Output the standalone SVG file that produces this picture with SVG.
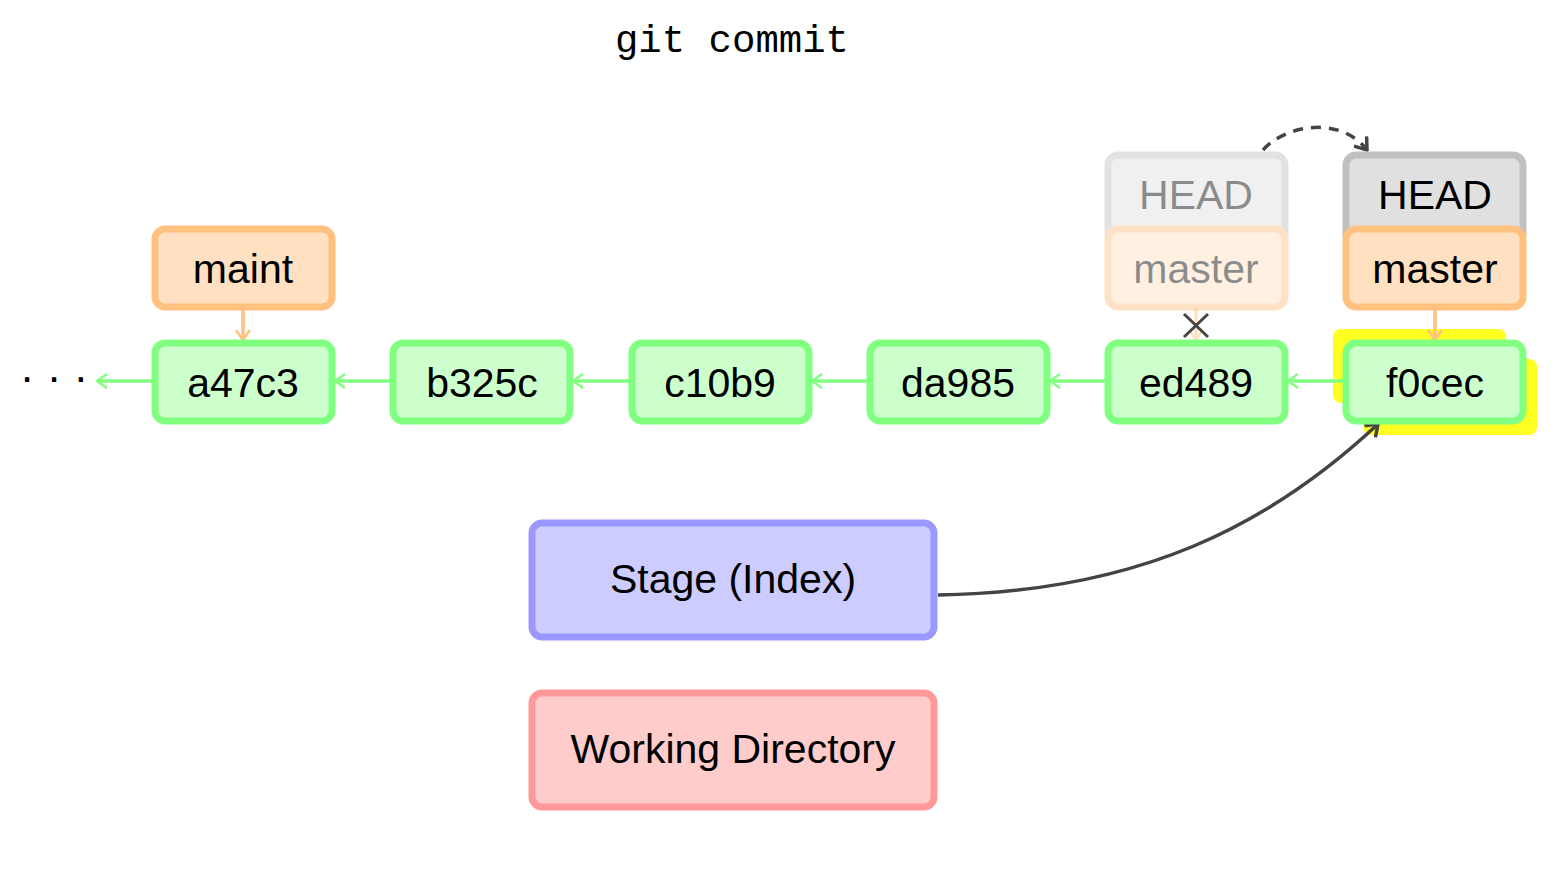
<svg xmlns="http://www.w3.org/2000/svg" width="1562" height="880" viewBox="0 0 1562 880">
<defs>
<style>
text{font-family:"Liberation Sans",Arial,sans-serif;font-size:41px;text-anchor:middle;fill:#000}
.commit rect{fill:#ccffcc;stroke:#80ff80;stroke-width:7}
.branch rect{fill:#ffe0c0;stroke:#ffc080;stroke-width:7}
.head rect{fill:#e0e0e0;stroke:#c0c0c0;stroke-width:7}
.area rect{stroke-width:7}
.g{stroke:#80ff80;stroke-width:3.5;fill:none}
.o{stroke:#ffc080;stroke-width:3.5;fill:none}
.d{stroke:#444;stroke-width:3.5;fill:none}
</style>
<marker id="ag" viewBox="0 0 12 16" refX="11" refY="8" markerWidth="12" markerHeight="16" markerUnits="userSpaceOnUse" orient="auto"><path d="M1,1 L11,8 L1,15" fill="none" stroke="#80ff80" stroke-width="2.5"/></marker>
<marker id="ao" viewBox="0 0 12 16" refX="11" refY="8" markerWidth="12" markerHeight="16" markerUnits="userSpaceOnUse" orient="auto"><path d="M1,1 L11,8 L1,15" fill="none" stroke="#ffc080" stroke-width="2.5"/></marker>
<marker id="ad" viewBox="0 0 14 18" refX="12" refY="9" markerWidth="14" markerHeight="18" markerUnits="userSpaceOnUse" orient="auto"><path d="M1,1 L12,9 L1,17" fill="none" stroke="#444" stroke-width="3.5"/></marker>
</defs>
<rect width="1562" height="880" fill="#fff"/>
<text x="732" y="52" style="font-family:'Liberation Mono','Courier New',monospace;font-size:39px">git commit</text>

<g id="highlight">
<rect x="1333" y="329" width="173" height="74" rx="8" fill="#ffff22"/>
<rect x="1363" y="359" width="174" height="76" rx="8" fill="#ffff22"/>
</g>

<g id="connectors">
<path class="g" d="M155,381 H97" marker-end="url(#ag)"/>
<path class="g" d="M393,381 H335" marker-end="url(#ag)"/>
<path class="g" d="M632,381 H573" marker-end="url(#ag)"/>
<path class="g" d="M870,381 H812" marker-end="url(#ag)"/>
<path class="g" d="M1108,381 H1050" marker-end="url(#ag)"/>
<path class="g" d="M1346,381 H1288" marker-end="url(#ag)"/>
<path class="o" d="M243,308 V340" marker-end="url(#ao)"/>
<path class="o" d="M1435,308 V340" marker-end="url(#ao)"/>
<path class="o" d="M1196,308 V340" opacity="0.45" marker-end="url(#ao)"/>
<path d="M1184,314 L1208,337 M1208,314 L1184,337" stroke="#444" stroke-width="3"/>
<path class="d" d="M938,595 C1140,592 1270,525 1378,424" marker-end="url(#ad)"/>
<path class="d" d="M1263,150 C1285,125 1340,115 1367,150" stroke-dasharray="10,8" marker-end="url(#ad)"/>
</g>

<text x="54" y="392" style="font-size:44px">· · ·</text>

<g id="head-old" opacity="0.45">
<g class="head"><rect x="1108" y="155" width="177" height="90" rx="10"/><text x="1196" y="209">HEAD</text></g>
<g class="branch"><rect x="1108" y="229" width="177" height="78" rx="10"/><text x="1196" y="283">master</text></g>
</g>
<g id="head" class="head"><rect x="1346" y="155" width="177" height="90" rx="10"/><text x="1435" y="209">HEAD</text></g>
<g id="master" class="branch"><rect x="1346" y="229" width="177" height="78" rx="10"/><text x="1435" y="283">master</text></g>
<g id="maint" class="branch"><rect x="155" y="229" width="177" height="78" rx="10"/><text x="243" y="283">maint</text></g>

<g id="a47c3" class="commit"><rect x="155" y="343" width="177" height="78" rx="10"/><text x="243" y="397">a47c3</text></g>
<g id="b325c" class="commit"><rect x="393" y="343" width="177" height="78" rx="10"/><text x="482" y="397">b325c</text></g>
<g id="c10b9" class="commit"><rect x="632" y="343" width="177" height="78" rx="10"/><text x="720" y="397">c10b9</text></g>
<g id="da985" class="commit"><rect x="870" y="343" width="177" height="78" rx="10"/><text x="958" y="397">da985</text></g>
<g id="ed489" class="commit"><rect x="1108" y="343" width="177" height="78" rx="10"/><text x="1196" y="397">ed489</text></g>
<g id="f0cec" class="commit"><rect x="1346" y="343" width="177" height="78" rx="10"/><text x="1435" y="397">f0cec</text></g>

<g id="stage" class="area"><rect x="532" y="523" width="402" height="114" rx="10" fill="#ccccff" stroke="#9999ff"/><text x="733" y="593">Stage (Index)</text></g>
<g id="workdir" class="area"><rect x="532" y="693" width="402" height="114" rx="10" fill="#ffcccc" stroke="#ff9999"/><text x="733" y="763">Working Directory</text></g>
</svg>
